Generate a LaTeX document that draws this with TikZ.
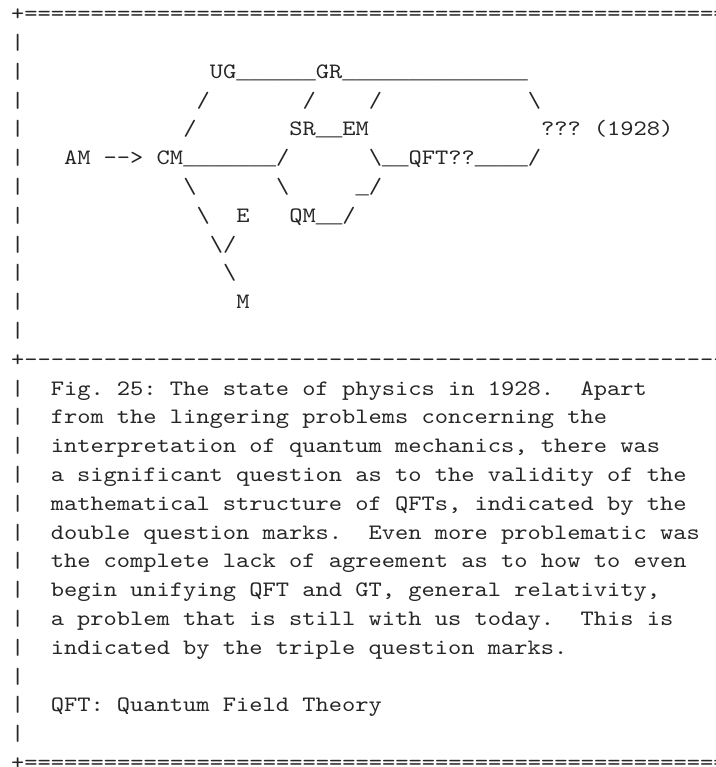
\documentclass[tikz,border=0pt]{standalone}
\usepackage{fontspec}
\newfontfamily\mono[FakeStretch=1.1472]{lmmono10-regular.otf}
\newfontfamily\umono{Liberation Mono}
\ExplSyntaxOn
\cs_new:Npn \rep #1#2 { \prg_replicate:nn {#1} {#2} }
\ExplSyntaxOff
\newcommand\bs{\textbackslash}
\newcommand\us{{\umono\fontsize{22.083}{26}\selectfont\_}}
\newcommand\At[4]{\node[asc] (#1) at ({11+13.25*#3},{767-(20.8+28.8*#2)}) {#4};}
\frenchspacing
\begin{document}
\begin{tikzpicture}[x=1pt,y=1pt,
  asc/.style={inner sep=0pt, outer sep=0pt, anchor=base west,
    font=\mono\fontsize{22}{26}\selectfont, text=black!85}]
\fill[white] (0,0) rectangle (715,767);
\useasboundingbox (0,0) rectangle (715,767);
\clip (0,0) rectangle (715,767);
% borders
\At{r0}{0}{0}{+\rep{56}{=}}
\At{r12}{12}{0}{+\rep{56}{-\kern0pt}}
\At{r26}{26}{0}{+\rep{56}{=}}
\foreach \r in {1,...,11,13,14,...,25} {
  \node[asc] (bar\r) at (11,{767-(20.8+28.8*\r)}) {|};
}
% diagram
\At{ug}{2}{15}{UG\rep{6}{\us}GR\rep{14}{\us}}
\At{r3a}{3}{14}{/}
\At{r3b}{3}{22}{/}
\At{r3c}{3}{27}{/}
\At{r3d}{3}{39}{\bs}
\At{r4a}{4}{13}{/}
\At{sr}{4}{21}{SR\us\us EM}
\At{q3}{4}{40}{??? (1928)}
\At{am}{5}{4}{AM -\kern0pt-\kern0pt> CM\rep{7}{\us}/}
\At{qft}{5}{27}{\bs\us\us QFT??\rep{4}{\us}/}
\At{r6a}{6}{13}{\bs}
\At{r6b}{6}{20}{\bs}
\At{r6c}{6}{26}{\us/}
\At{r7a}{7}{14}{\bs}
\At{e}{7}{17}{E}
\At{qm}{7}{21}{QM\us\us/}
\At{r8}{8}{15}{\bs/}
\At{r9}{9}{16}{\bs}
\At{m}{10}{17}{M}
% caption
\At{c13}{13}{3}{Fig. 25: The state of physics in 1928.~~Apart}
\At{c14}{14}{3}{from the lingering problems concerning the}
\At{c15}{15}{3}{interpretation of quantum mechanics, there was}
\At{c16}{16}{3}{a significant question as to the validity of the}
\At{c17}{17}{3}{mathematical structure of QFTs, indicated by the}
\At{c18}{18}{3}{double question marks.~~Even more problematic was}
\At{c19}{19}{3}{the complete lack of agreement as to how to even}
\At{c20}{20}{3}{begin unifying QFT and GT, general relativity,}
\At{c21}{21}{3}{a problem that is still with us today.~~This is}
\At{c22}{22}{3}{indicated by the triple question marks.}
\At{c24}{24}{3}{QFT: Quantum Field Theory}
\end{tikzpicture}
\end{document}
